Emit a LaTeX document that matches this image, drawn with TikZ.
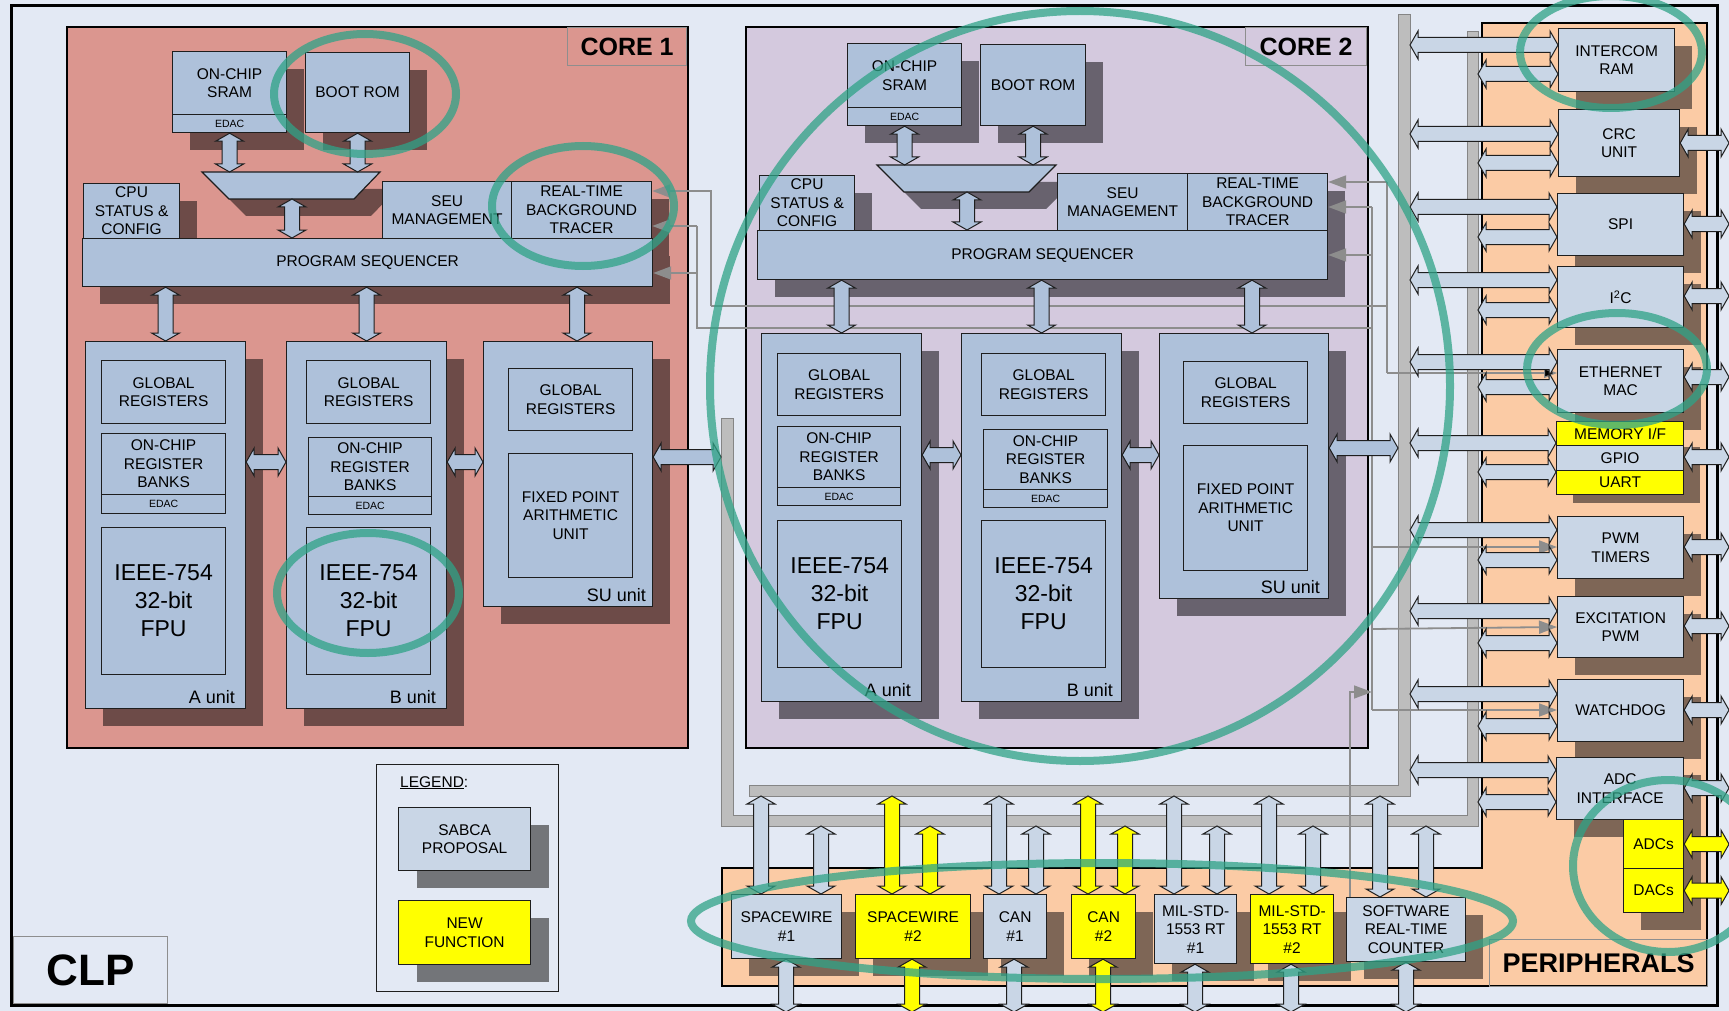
\documentclass[tikz,border=0pt]{standalone}
\usepackage{fontspec}
\setmainfont{Liberation Sans}
\usetikzlibrary{arrows.meta,shadows,calc}
\definecolor{bgc}{HTML}{E3E9F4}
\definecolor{boxline}{HTML}{1E1E1E}
\definecolor{cbox}{HTML}{AEC1DA}
\definecolor{pbox}{HTML}{C9D6E6}
\definecolor{newyel}{HTML}{FFFF00}
\definecolor{coreonecol}{HTML}{DB968F}
\definecolor{coretwocol}{HTML}{D4C9DE}
\definecolor{c1sh}{HTML}{6D4B48}
\definecolor{c2sh}{HTML}{68626E}
\definecolor{psh}{HTML}{7E6656}
\definecolor{lsh}{HTML}{737579}
\definecolor{orangec}{HTML}{FBCBA5}
\definecolor{busfill}{HTML}{BDBDBD}
\definecolor{busline}{HTML}{858585}
\definecolor{sigcol}{HTML}{8D8D8D}
\definecolor{lblline}{HTML}{8E8E8E}
\definecolor{ringcol}{HTML}{2FA387}
\newcommand\fsz[2]{\fontsize{#1}{#2}\selectfont}
% box: [extra]{style}{name}{x1}{y1}{x2}{y2}{text}
\newcommand\mybox[8][]{%
  \pgfmathsetmacro\myBW{#6-#4}\pgfmathsetmacro\myBH{#7-#5}%
  \node[#2,minimum width=\myBW pt,minimum height=\myBH pt,anchor=north west,#1] (#3) at (#4,#5) {#8};}
% double headed block arrow between two coordinates
\newcommand\blkarrow[3][cbox]{%
  \path let \p1=#2, \p2=#3 in \pgfextra{\xdef\baXa{\x1}\xdef\baYa{\y1}\xdef\baXb{\x2}\xdef\baYb{\y2}};%
  \pgfmathsetmacro\baLen{veclen(\baXb-\baXa,\baYb-\baYa)}%
  \pgfmathsetmacro\baAng{atan2(\baYb-\baYa,\baXb-\baXa)}%
  \pgfmathsetmacro\baM{\baLen-8}%
  \draw[draw=boxline,line width=1pt,fill=#1,shift={(\baXa,\baYa)},rotate=\baAng]
    (0pt,0pt) -- (8pt,14pt) -- (8pt,7.5pt) -- (\baM pt,7.5pt) -- (\baM pt,14pt) -- (\baLen pt,0pt)
    -- (\baM pt,-14pt) -- (\baM pt,-7.5pt) -- (8pt,-7.5pt) -- (8pt,-14pt) -- cycle;}
\tikzset{
  bx/.style={draw=boxline,line width=1.2pt,inner sep=0pt,align=center,text=black,font=\fsz{15.5}{18.5}},
  cb/.style={bx,fill=cbox},
  pb/.style={bx,fill=pbox},
  yb/.style={bx,fill=newyel},
  edacf/.style={font=\fsz{10.5}{12}},
  fpuf/.style={font=\fsz{23}{28}},
  unitlbl/.style={font=\fsz{18}{20},inner sep=0pt,anchor=base east},
  shA/.style={general shadow={shadow xshift=17pt,shadow yshift=-17pt,fill=c1sh}},
  shB/.style={general shadow={shadow xshift=17pt,shadow yshift=-17pt,fill=c2sh}},
  shP/.style={general shadow={shadow xshift=17pt,shadow yshift=-17pt,fill=psh}},
  shL/.style={general shadow={shadow xshift=18pt,shadow yshift=-17pt,fill=lsh}},
  lbl/.style={draw=lblline,line width=1.2pt,inner sep=0pt,align=center,font=\bfseries\fsz{25}{28}},
  sig/.style={draw=sigcol,line width=1.8pt},
  sigtip/.style={-{Triangle[length=18pt,width=13pt,fill=sigcol]}},
  bus/.style={fill=busfill,draw=busline,line width=1pt},
  ring/.style={draw=ringcol,line width=8pt,draw opacity=0.75},
}
\begin{document}
\begin{tikzpicture}[x=1pt,y=-1pt]
\useasboundingbox (0,0) rectangle (1729,1011);
\clip (0,0) rectangle (1729,1011);
\fill[bgc] (0,0) rectangle (1729,1011);

% ---------- CLP label and legend
\mybox[font=\bfseries\fsz{44}{48}]{lbl}{clp}{13}{936}{167}{1003}{CLP}
\mybox[fill=bgc]{bx}{legend}{376}{764}{558}{991}{}
\node[anchor=base west,inner sep=0pt,font=\fsz{15.5}{18}] (legtitle) at (400,787) {\underline{LEGEND}:};
\mybox[shL]{pb}{legsabca}{398}{807}{530}{870}{SABCA\\PROPOSAL}
\mybox[shL]{yb}{legnew}{398}{900}{530}{964}{NEW\\FUNCTION}

% ---------- outer frame
\draw[line width=3pt] (11,6) rectangle (1717,1005);

% ---------- CORE 1
\mybox[fill=coreonecol,draw=black,line width=2pt]{bx}{core1}{66}{26}{687}{747}{}
\mybox{lbl}{c1lab}{567}{27}{686}{65}{CORE 1}
\mybox[shA]{cb}{c1sram}{172}{51}{286}{114}{ON-CHIP\\SRAM}
\mybox[shA,edacf]{cb}{c1sramedac}{172}{114}{286}{132}{EDAC}
\mybox[shA]{cb}{c1boot}{305}{52}{409}{132}{BOOT ROM}
\fill[c1sh] (219,189) -- (397,189) -- (371,216) -- (246,216) -- cycle;
\filldraw[fill=cbox,draw=boxline,line width=1.2pt] (202,172) -- (380,172) -- (354,199) -- (229,199) -- cycle;
\coordinate (c1mux) at (292,199);
\mybox[shA]{cb}{c1cpu}{83}{183}{179}{238}{CPU\\STATUS \&\\CONFIG}
\mybox[shA]{cb}{c1seu}{382}{181}{511}{238}{SEU\\MANAGEMENT}
\mybox[shA]{cb}{c1rtbt}{511}{181}{651}{238}{REAL-TIME\\BACKGROUND\\TRACER}
\mybox[shA]{cb}{c1ps}{82}{238}{652}{286}{PROGRAM SEQUENCER}
\mybox[shA]{cb}{c1a}{85}{341}{245}{708}{}
\mybox{cb}{c1agr}{101}{360}{225}{423}{GLOBAL\\REGISTERS}
\mybox{cb}{c1aorb}{101}{433}{225}{494}{ON-CHIP\\REGISTER\\BANKS}
\mybox[edacf]{cb}{c1aedac}{101}{494}{225}{513}{EDAC}
\mybox[fpuf]{cb}{c1afpu}{101}{527}{225}{674}{IEEE-754\\32-bit\\FPU}
\node[unitlbl] (c1alab) at (235,703) {A unit};
\mybox[shA]{cb}{c1b}{286}{341}{446}{708}{}
\mybox{cb}{c1bgr}{306}{360}{430}{423}{GLOBAL\\REGISTERS}
\mybox{cb}{c1borb}{308}{437}{431}{496}{ON-CHIP\\REGISTER\\BANKS}
\mybox[edacf]{cb}{c1bedac}{308}{496}{431}{514}{EDAC}
\mybox[fpuf]{cb}{c1bfpu}{306}{527}{430}{674}{IEEE-754\\32-bit\\FPU}
\node[unitlbl] (c1blab) at (436,703) {B unit};
\mybox[shA]{cb}{c1su}{483}{341}{652}{606}{}
\mybox{cb}{c1sugr}{508}{368}{632}{430}{GLOBAL\\REGISTERS}
\mybox{cb}{c1fpau}{508}{453}{632}{577}{FIXED POINT\\ARITHMETIC\\UNIT}
\node[unitlbl] (c1slab) at (646,601) {SU unit};

% ---------- CORE 2
\mybox[fill=coretwocol,draw=black,line width=2pt]{bx}{core2}{745}{26}{1367}{747}{}
\mybox{lbl}{c2lab}{1245}{27}{1366}{65}{CORE 2}
\mybox[shB]{cb}{c2sram}{847}{43}{961}{107}{ON-CHIP\\SRAM}
\mybox[shB,edacf]{cb}{c2sramedac}{847}{107}{961}{125}{EDAC}
\mybox[shB]{cb}{c2boot}{980}{44}{1085}{125}{BOOT ROM}
\fill[c2sh] (894,182) -- (1073,182) -- (1046,209) -- (921,209) -- cycle;
\filldraw[fill=cbox,draw=boxline,line width=1.2pt] (877,165) -- (1056,165) -- (1029,192) -- (904,192) -- cycle;
\coordinate (c2mux) at (967,192);
\mybox[shB]{cb}{c2cpu}{759}{175}{854}{230}{CPU\\STATUS \&\\CONFIG}
\mybox[shB]{cb}{c2seu}{1057}{173}{1187}{230}{SEU\\MANAGEMENT}
\mybox[shB]{cb}{c2rtbt}{1187}{173}{1327}{230}{REAL-TIME\\BACKGROUND\\TRACER}
\mybox[shB]{cb}{c2ps}{757}{230}{1327}{279}{PROGRAM SEQUENCER}
\mybox[shB]{cb}{c2a}{761}{333}{921}{701}{}
\mybox{cb}{c2agr}{777}{353}{900}{415}{GLOBAL\\REGISTERS}
\mybox{cb}{c2aorb}{777}{426}{900}{487}{ON-CHIP\\REGISTER\\BANKS}
\mybox[edacf]{cb}{c2aedac}{777}{487}{900}{505}{EDAC}
\mybox[fpuf]{cb}{c2afpu}{777}{520}{901}{667}{IEEE-754\\32-bit\\FPU}
\node[unitlbl] (c2alab) at (911,696) {A unit};
\mybox[shB]{cb}{c2b}{961}{333}{1121}{701}{}
\mybox{cb}{c2bgr}{981}{353}{1105}{415}{GLOBAL\\REGISTERS}
\mybox{cb}{c2borb}{983}{429}{1107}{489}{ON-CHIP\\REGISTER\\BANKS}
\mybox[edacf]{cb}{c2bedac}{983}{489}{1107}{507}{EDAC}
\mybox[fpuf]{cb}{c2bfpu}{981}{520}{1105}{667}{IEEE-754\\32-bit\\FPU}
\node[unitlbl] (c2blab) at (1113,696) {B unit};
\mybox[shB]{cb}{c2su}{1159}{333}{1328}{598}{}
\mybox{cb}{c2sugr}{1183}{361}{1307}{423}{GLOBAL\\REGISTERS}
\mybox{cb}{c2fpau}{1183}{445}{1307}{570}{FIXED POINT\\ARITHMETIC\\UNIT}
\node[unitlbl] (c2slab) at (1320,593) {SU unit};

% ---------- peripherals area
\filldraw[fill=orangec,draw=black,line width=1.8pt] (722,868) -- (1482,868) -- (1482,23) -- (1707,23) -- (1707,986) -- (722,986) -- cycle;
\mybox[font=\bfseries\fsz{27}{30}]{lbl}{perlab}{1489}{939}{1707}{986}{PERIPHERALS}

% ---------- buses
\filldraw[bus] (1398,15) -- (1410,15) -- (1410,796) -- (749,796) -- (749,785) -- (1398,785) -- cycle;
\filldraw[bus] (1467,32) -- (1478,32) -- (1478,826) -- (721,826) -- (721,418) -- (733,418) -- (733,815) -- (1467,815) -- cycle;
\coordinate (busAl) at (1398,15);
\coordinate (busAr) at (1410,15);
\coordinate (busBl) at (721,418);
\coordinate (busBr) at (1478,32);
\coordinate (busAb) at (749,796);
\coordinate (busBb) at (721,826);

% ---------- peripheral boxes
\mybox[shP]{pb}{intercom}{1558}{28}{1674}{91}{INTERCOM\\RAM}
\mybox[shP]{pb}{crc}{1558}{109}{1679}{176}{CRC\\UNIT}
\mybox[shP]{pb}{spi}{1557}{193}{1683}{255}{SPI}
\mybox[shP]{pb}{i2c}{1557}{266}{1683}{327}{I\textsuperscript{2}C}
\mybox[shP]{pb}{eth}{1557}{349}{1683}{412}{ETHERNET\\MAC}
\fill[psh] (1573,447) rectangle (1700,503);
\mybox{yb}{memif}{1556}{421}{1683}{445}{MEMORY I/F}
\mybox{pb}{gpio}{1556}{445}{1683}{470}{GPIO}
\mybox{yb}{uart}{1556}{470}{1683}{494}{UART}
\mybox[shP]{pb}{pwm}{1557}{516}{1683}{578}{PWM\\TIMERS}
\mybox[shP]{pb}{exc}{1557}{596}{1683}{657}{EXCITATION\\PWM}
\mybox[shP]{pb}{wdg}{1557}{679}{1683}{741}{WATCHDOG}
\mybox[shP]{pb}{adci}{1556}{757}{1683}{819}{ADC\\INTERFACE}
\mybox[shP]{yb}{adcs}{1623}{819}{1683}{868}{ADCs}
\mybox[shP]{yb}{dacs}{1623}{868}{1683}{912}{DACs}

% bottom strip
\mybox[shP]{pb}{spw1}{731}{894}{841}{958}{SPACEWIRE\\\#1}
\mybox[shP]{yb}{spw2}{855}{894}{970}{958}{SPACEWIRE\\\#2}
\mybox[shP]{pb}{can1}{983}{894}{1046}{958}{CAN\\\#1}
\mybox[shP]{yb}{can2}{1071}{894}{1135}{958}{CAN\\\#2}
\mybox[shP]{pb}{mil1}{1154}{894}{1236}{963}{MIL-STD-\\1553 RT\\\#1}
\mybox[shP]{yb}{mil2}{1250}{894}{1333}{963}{MIL-STD-\\1553 RT\\\#2}
\mybox[shP]{pb}{swrt}{1346}{897}{1465}{961}{SOFTWARE\\REAL-TIME\\COUNTER}

% ---------- signal lines
\draw[sig,sigtip] (711,306) -- (711,191) -- (c1rtbt.east |- 0,191);
\draw[sig] (711,306) -- (1387,306);
\draw[sig,sigtip] (1387,182) -- (c2rtbt.east |- 0,182);
\draw[sig] (1387,182) -- (1387,373);
\draw[draw=sigcol,line width=1.2pt,-{Triangle[length=13pt,width=10pt,fill=black]}] (1387,373) -- (eth.west |- 0,373);
\draw[sig,sigtip] (697,226) -- (c1rtbt.east |- 0,226);
\draw[sig,sigtip] (697,273) -- (c1ps.east |- 0,273);
\draw[sig] (697,226) -- (697,328) -- (1372,328);
\draw[sig,sigtip] (1372,207) -- (c2rtbt.east |- 0,207);
\draw[sig,sigtip] (1372,255) -- (c2ps.east |- 0,255);
\draw[sig] (1372,207) -- (1372,710);
\draw[sig,sigtip] (1372,547) -- (pwm.west |- 0,547);
\draw[sig,sigtip] (1372,629) -- (exc.west |- 0,627);
\draw[sig,sigtip] (1372,710) -- (wdg.west |- 0,710);
\draw[sig,line width=1.4pt,sigtip] (swrt.north -| 1350,0) -- (1350,692) -- (1372,692);

% ---------- block arrows, core 1
\blkarrow{(c1sramedac.south)}{(c1sramedac.south |- 0,172)}
\blkarrow{(c1boot.south)}{(c1boot.south |- 0,172)}
\blkarrow{(c1mux)}{(c1mux |- c1ps.north)}
\blkarrow{(c1ps.south -| c1a.north)}{(c1a.north)}
\blkarrow{(c1ps.south -| c1b.north)}{(c1b.north)}
\blkarrow{(c1ps.south -| 577,0)}{(c1su.north -| 577,0)}
\blkarrow{(c1a.east |- 0,462)}{(c1b.west |- 0,462)}
\blkarrow{(c1b.east |- 0,462)}{(c1su.west |- 0,462)}
\blkarrow{(c1su.east |- 0,457)}{(busBl |- 0,457)}
% core 2
\blkarrow{(c2sramedac.south)}{(c2sramedac.south |- 0,165)}
\blkarrow{(c2boot.south)}{(c2boot.south |- 0,165)}
\blkarrow{(c2mux)}{(c2mux |- c2ps.north)}
\blkarrow{(c2ps.south -| c2a.north)}{(c2a.north)}
\blkarrow{(c2ps.south -| c2b.north)}{(c2b.north)}
\blkarrow{(c2ps.south -| 1252,0)}{(c2su.north -| 1252,0)}
\blkarrow{(c2a.east |- 0,455)}{(c2b.west |- 0,455)}
\blkarrow{(c2b.east |- 0,455)}{(c2su.west |- 0,455)}
\blkarrow{(c2su.east |- 0,448)}{(busAl |- 0,448)}
% peripherals
\foreach \nm/\ya/\yb in {intercom/45/74,crc/134/163,spi/207/237,i2c/280/310,eth/362/387,memif/443/472,pwm/530/560,exc/611/643,wdg/694/726,adci/770/802}{
  \blkarrow[pbox]{(busAr |- 0,\ya)}{(\nm.west |- 0,\ya)}
  \blkarrow[pbox]{(busBr |- 0,\yb)}{(\nm.west |- 0,\yb)}
}
\foreach \nm/\yy in {crc/143,spi/224,i2c/296,eth/377,gpio/457,pwm/547,exc/626,wdg/710,adci/788}{
  \blkarrow[pbox]{(\nm.east |- 0,\yy)}{(1729,\yy)}
}
\blkarrow[newyel]{(adcs.east)}{(adcs.east -| 1729,0)}
\blkarrow[newyel]{(dacs.east)}{(dacs.east -| 1729,0)}
% bottom strip
\foreach \nm/\xa/\xb/\xc/\col in {spw1/761/821/786/pbox,spw2/892/930/912/newyel,can1/999/1036/1014/pbox,can2/1088/1125/1103/newyel,mil1/1174/1217/1195/pbox,mil2/1269/1313/1291/pbox,swrt/1380/1426/1406/pbox}{
  \blkarrow[\col]{(busAb -| \xa,0)}{(\nm.north -| \xa,0)}
  \blkarrow[\col]{(busBb -| \xb,0)}{(\nm.north -| \xb,0)}
  \blkarrow[\col]{(\nm.south -| \xc,0)}{(\xc,1012)}
}

% ---------- highlight rings
\draw[ring] (365,94) ellipse [x radius=91pt,y radius=60pt];
\draw[ring] (583,206) ellipse [x radius=91pt,y radius=60pt];
\draw[ring] (368,593) ellipse [x radius=91pt,y radius=60pt];
\draw[ring] (1080,386) ellipse [x radius=370pt,y radius=375pt];
\draw[ring] (1611,52) ellipse [x radius=91pt,y radius=56pt];
\draw[ring] (1617,369) ellipse [x radius=90pt,y radius=56pt];
\draw[ring] (1668,866) ellipse [x radius=95pt,y radius=86pt];
\draw[ring] (1102,921) ellipse [x radius=411pt,y radius=58pt];
\end{tikzpicture}
\end{document}
